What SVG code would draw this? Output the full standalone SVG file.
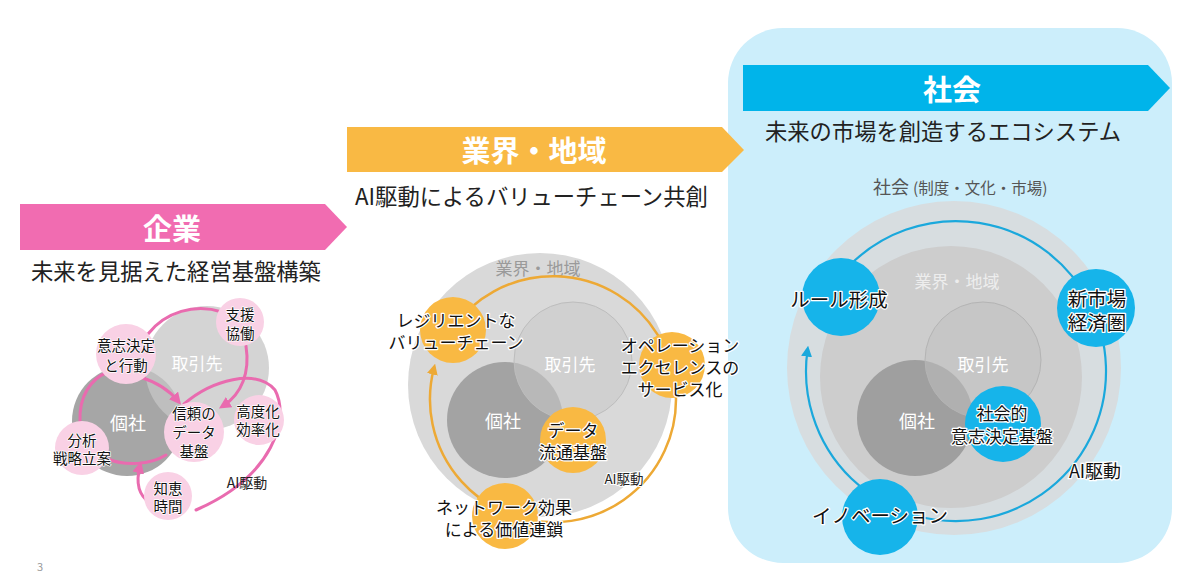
<svg xmlns="http://www.w3.org/2000/svg" width="1200" height="580" viewBox="0 0 1200 580">
<defs>
<style>
text{font-family:"Noto Sans CJK JP","Noto Sans",sans-serif}
.c{text-anchor:middle;dominant-baseline:central}
.ban{font-size:29px;font-weight:700;fill:#fff}
.sub{font-size:22.3px;fill:#222}
.in{font-size:17px;fill:#fff}
.lp{font-size:14.5px;fill:#111;stroke:#fff;stroke-width:1.5px;paint-order:stroke;stroke-linejoin:round}
.lo{font-size:17px;fill:#111;stroke:#fff;stroke-width:2.5px;paint-order:stroke;stroke-linejoin:round}
.lb{font-size:19.5px;fill:#111;stroke:#fff;stroke-width:2.5px;paint-order:stroke;stroke-linejoin:round}
.pk{fill:none;stroke:#E96BAF;stroke-width:3;stroke-linecap:round}
.or{fill:none;stroke:#EDA935;stroke-width:2.5;stroke-linecap:round}
.bl{fill:none;stroke:#1AA8DC;stroke-width:2.2;stroke-linecap:round}
.pn{fill:#F9D1E5}
.on{fill:#F9B943}
.bn{fill:#16B4EA}
</style>
<marker id="mp" viewBox="0 0 10 10" refX="6" refY="5" markerWidth="4" markerHeight="4" orient="auto"><path d="M0,0 L10,5 L0,10 z" fill="#E96BAF"/></marker>
<marker id="mo" viewBox="0 0 10 10" refX="6" refY="5" markerWidth="4.4" markerHeight="4.4" orient="auto"><path d="M0,0 L10,5 L0,10 z" fill="#EDA935"/></marker>
<marker id="mb" viewBox="0 0 10 10" refX="6" refY="5" markerWidth="5" markerHeight="5" orient="auto"><path d="M0,0 L10,5 L0,10 z" fill="#1AA8DC"/></marker>
</defs>

<rect x="0" y="0" width="1200" height="580" fill="#fff"/>

<!-- society background panel -->
<g id="society-panel">
<rect x="728" y="28" width="444" height="535" rx="55" fill="#CCEEFB"/>
</g>

<!-- banners -->
<g id="banner-kigyo">
<polygon points="20,204 325,204 347,227 325,250 20,250" fill="#F16CB1"/>
<text class="c ban" x="172" y="227">企業</text>
<text class="sub" x="31" y="280">未来を見据えた経営基盤構築</text>
</g>
<g id="banner-gyokai">
<polygon points="347,127 722,127 744,150 722,172 347,172" fill="#F9B944"/>
<text class="c ban" x="534" y="149">業界・地域</text>
<text class="sub" x="355" y="205">AI駆動によるバリューチェーン共創</text>
</g>
<g id="banner-shakai">
<polygon points="743,65 1148,65 1170,88 1148,111 743,111" fill="#00B4EA"/>
<text class="c ban" x="952" y="88">社会</text>
<text class="sub" x="765" y="140">未来の市場を創造するエコシステム</text>
</g>

<!-- ============ LEFT: 企業 ============ -->
<g id="left-kosha"><circle cx="127" cy="421" r="55" fill="#A6A6A6"/></g>
<g id="left-torihiki"><circle cx="207" cy="368" r="62" fill="#C6C6C6" fill-opacity="0.75"/></g>
<text class="c in" x="197" y="362" fill="#f2f2f2">取引先</text>
<text class="c in" x="128" y="422" style="font-size:18px">個社</text>

<g id="left-connectors">
<path class="pk" d="M148 334 C165 312,195 303,222 312"/>
<path class="pk" d="M246 346 C250 372,242 394,223 406" marker-end="url(#mp)"/>
<path class="pk" d="M140 377 C156 382,169 390,178 401" marker-end="url(#mp)"/>
<path class="pk" d="M184 404 C212 380,256 368,275 390 C290 418,274 476,196 510"/>
<path class="pk" d="M150 503 C138 495,136 481,140 466" marker-end="url(#mp)"/>
<path class="pk" d="M166 455 C150 465,125 466,108 459"/>
<path class="pk" d="M80 421 C79 397,90 379,108 372"/>
</g>
<text class="c" x="247" y="482" style="font-size:14px;fill:#222">AI駆動</text>

<g id="node-ishikettei"><circle class="pn" cx="126" cy="354" r="30"/>
<text class="c lp" x="126" y="344">意志決定</text><text class="c lp" x="126" y="364">と行動</text></g>
<g id="node-shien"><circle class="pn" cx="240" cy="322" r="24"/>
<text class="c lp" x="240" y="313">支援</text><text class="c lp" x="240" y="332">協働</text></g>
<g id="node-shinrai"><circle class="pn" cx="194" cy="432" r="30"/>
<text class="c lp" x="194" y="412">信頼の</text><text class="c lp" x="194" y="431">データ</text><text class="c lp" x="194" y="450">基盤</text></g>
<g id="node-kodoka"><circle class="pn" cx="259" cy="420" r="25"/>
<text class="c lp" x="258" y="410">高度化</text><text class="c lp" x="258" y="428">効率化</text></g>
<g id="node-bunseki"><circle class="pn" cx="82" cy="448" r="27"/>
<text class="c lp" x="82" y="439">分析</text><text class="c lp" x="82" y="457">戦略立案</text></g>
<g id="node-chie"><circle class="pn" cx="168" cy="496" r="24"/>
<text class="c lp" x="168" y="487">知恵</text><text class="c lp" x="168" y="505">時間</text></g>

<!-- ============ MIDDLE: 業界・地域 ============ -->
<g id="mid-gyokai"><circle cx="540" cy="385" r="132" fill="#D9D9D9"/>
<text class="c" x="538" y="267" style="font-size:17px;fill:#9A9A9A">業界・地域</text></g>
<g id="mid-kosha"><circle cx="505" cy="420" r="58" fill="#A3A3A3"/></g>
<g id="mid-torihiki"><circle cx="573" cy="361" r="59" fill="#C8C8C8" fill-opacity="0.57" stroke="#BDBDBD" stroke-width="1"/></g>
<text class="c in" x="570" y="363">取引先</text>
<text class="c in" x="503" y="420" style="font-size:18px">個社</text>

<g id="mid-connectors">
<path class="or" d="M452 329 A123 123 0 1 1 434 368" marker-end="url(#mo)"/>
</g>
<text class="c" x="624" y="478" style="font-size:13.5px;fill:#222;stroke:#fff;stroke-width:2px;paint-order:stroke">AI駆動</text>

<g id="node-resilient"><circle class="on" cx="453" cy="330" r="33"/>
<text class="c lo" x="456" y="319">レジリエントな</text><text class="c lo" x="456" y="341">バリューチェーン</text></g>
<g id="node-operation"><circle class="on" cx="672" cy="365" r="33"/>
<text class="c lo" x="680" y="344">オペレーション</text><text class="c lo" x="680" y="366">エクセレンスの</text><text class="c lo" x="680" y="388">サービス化</text></g>
<g id="node-data"><circle class="on" cx="573" cy="440" r="33"/>
<text class="c lo" x="573" y="429">データ</text><text class="c lo" x="573" y="451">流通基盤</text></g>
<g id="node-network"><circle class="on" cx="505" cy="516" r="33"/>
<text class="c lo" x="504" y="506">ネットワーク効果</text><text class="c lo" x="504" y="528">による価値連鎖</text></g>

<!-- ============ RIGHT: 社会 ============ -->
<text x="873" y="194" style="font-size:18px;fill:#555">社会 <tspan style="font-size:15.5px">(制度・文化・市場)</tspan></text>
<g id="right-shakai"><circle cx="954" cy="368" r="167" fill="#D7DDE0"/></g>
<g id="right-gyokai"><circle cx="951" cy="377" r="131" fill="#CDCDCD"/>
<text class="c" x="957" y="280" style="font-size:17px;fill:#EDEDED">業界・地域</text></g>
<g id="right-kosha"><circle cx="915" cy="418" r="58" fill="#9F9F9F"/></g>
<g id="right-torihiki"><circle cx="983" cy="360" r="58" fill="#C0C0C0" fill-opacity="0.52" stroke="#B4B4B4" stroke-width="1"/></g>
<text class="c in" x="983" y="363">取引先</text>
<text class="c in" x="917" y="420" style="font-size:18px">個社</text>

<g id="right-connectors">
<path class="bl" d="M850 265 A150 150 0 1 1 807.5 350" marker-end="url(#mb)"/>
</g>
<text class="c" x="1095" y="470" style="font-size:18px;fill:#111;stroke:#fff;stroke-width:2.5px;paint-order:stroke">AI駆動</text>

<g id="node-rule"><circle class="bn" cx="841" cy="297" r="39"/>
<text class="c lb" x="839" y="298">ルール形成</text></g>
<g id="node-shinshijo"><circle class="bn" cx="1096" cy="308" r="39"/>
<text class="c lb" x="1097" y="297">新市場</text><text class="c lb" x="1097" y="321">経済圏</text></g>
<g id="node-shakaiteki"><circle class="bn" cx="1003" cy="424" r="38"/>
<text class="c lo" x="1002" y="412">社会的</text><text class="c lo" x="1002" y="435">意志決定基盤</text></g>
<g id="node-innovation"><circle class="bn" cx="880" cy="517" r="38"/>
<text class="c lb" x="880" y="514">イノベーション</text></g>

<text x="37" y="571" style="font-size:11px;fill:#999">3</text>
</svg>
